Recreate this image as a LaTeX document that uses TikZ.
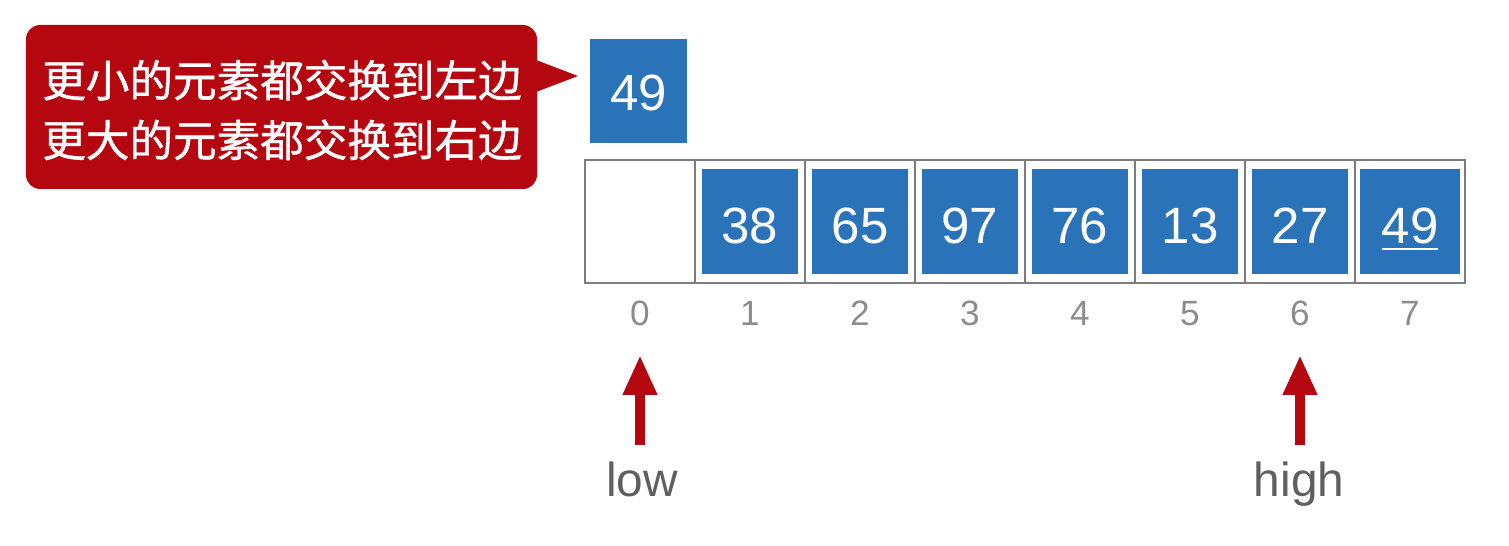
\documentclass[tikz,border=0pt]{standalone}
\usepackage{fontspec}
\setmainfont{Liberation Sans}
\newfontfamily\cjk[FakeBold=1]{Noto Sans CJK SC}
\usepackage{xcolor}
\usetikzlibrary{arrows.meta}
\definecolor{callred}{RGB}{181,7,15}
\definecolor{keyblue}{RGB}{43,115,184}
\definecolor{cellgray}{RGB}{125,125,125}
\definecolor{idxgray}{RGB}{140,140,140}
\definecolor{lblgray}{RGB}{95,95,95}
\newcommand{\pivline}[1]{\setbox0\hbox{#1}\rlap{\raisebox{-0.13em}{\rule{\wd0}{0.045em}}}\box0}
\tikzset{
  cell/.style={rectangle, draw=cellgray, line width=0.8pt, minimum width=1.1cm, minimum height=1.23cm, inner sep=0pt},
  key/.style={rectangle, fill=keyblue, minimum width=0.96cm, minimum height=1.05cm, inner sep=0pt, text height=12.4pt, text depth=0pt, text=white, font=\fontsize{14.5}{16}\selectfont},
  idx/.style={text=idxgray, font=\fontsize{10}{12}\selectfont, inner sep=0pt, text height=7.2pt, text depth=0pt},
  ptrlbl/.style={text=lblgray, font=\fontsize{13.6}{16}\selectfont, inner sep=0pt, anchor=base},
  ptr/.style={draw=callred, line width=0.1cm, -{Triangle[width=0.32cm, length=0.40cm]}},
  note/.style={text=white, font=\cjk\fontsize{12.4}{17}\selectfont, align=center, inner sep=0pt}
}

\begin{document}
\begin{tikzpicture}
  \useasboundingbox (0,0) rectangle (15.09,-5.46);
  % callout
  \fill[callred, rounded corners=4pt] (0.26,-0.25) rectangle (5.37,-1.89);
  \fill[callred] (5.36,-0.60) -- (5.78,-0.76) -- (5.36,-0.92) -- cycle;
  \node[note] (msg) at (2.82,-1.10) {更小的元素都交换到左边\\更大的元素都交换到右边};
  % pivot
  \node[key, minimum width=0.97cm, minimum height=1.04cm, text height=11pt] (pv) at (6.385,-0.91) {49};
  % array cells
  \node[cell] (c0) at (6.40,-2.215) {};
  \node[cell] (c1) at (7.50,-2.215) {};
  \node[cell] (c2) at (8.60,-2.215) {};
  \node[cell] (c3) at (9.70,-2.215) {};
  \node[cell] (c4) at (10.80,-2.215) {};
  \node[cell] (c5) at (11.90,-2.215) {};
  \node[cell] (c6) at (13.00,-2.215) {};
  \node[cell] (c7) at (14.10,-2.215) {};
  \node[key] (k1) at (c1) {38};
  \node[key] (k2) at (c2) {65};
  \node[key] (k3) at (c3) {97};
  \node[key] (k4) at (c4) {76};
  \node[key] (k5) at (c5) {13};
  \node[key] (k6) at (c6) {27};
  \node[key, minimum width=1.0cm] (k7) at (c7) {\pivline{49}};
  % indices
  \node[idx] (i0) at (6.40,-3.13) {0};
  \node[idx] (i1) at (7.50,-3.13) {1};
  \node[idx] (i2) at (8.60,-3.13) {2};
  \node[idx] (i3) at (9.70,-3.13) {3};
  \node[idx] (i4) at (10.80,-3.13) {4};
  \node[idx] (i5) at (11.90,-3.13) {5};
  \node[idx] (i6) at (13.00,-3.13) {6};
  \node[idx] (i7) at (14.10,-3.13) {7};
  % pointers
  \coordinate (lowtip) at (6.40,-3.55);
  \coordinate (lowend) at (6.40,-4.45);
  \coordinate (hightip) at (13.00,-3.55);
  \coordinate (highend) at (13.00,-4.45);
  \draw[ptr] (lowend) -- (lowtip);
  \draw[ptr] (highend) -- (hightip);
  \node[ptrlbl] (low) at (6.42,-4.97) {low};
  \node[ptrlbl] (high) at (12.99,-4.97) {high};
\end{tikzpicture}
\end{document}
